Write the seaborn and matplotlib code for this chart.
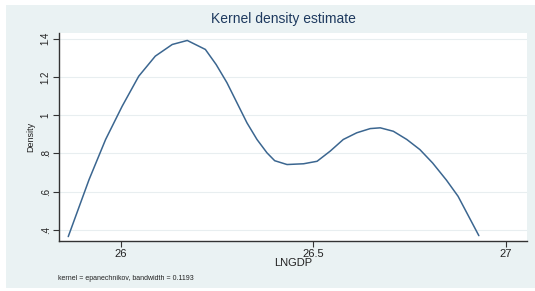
import pandas as pd
import matplotlib
matplotlib.use("Agg")
import matplotlib.pyplot as plt
from matplotlib.patches import Rectangle
import seaborn as sns

# curve
lngdp = [25.864, 25.918, 25.961, 26.004, 26.047, 26.09, 26.134, 26.173, 26.22,
         26.248, 26.276, 26.302, 26.328, 26.354, 26.38, 26.40, 26.432, 26.475,
         26.51, 26.544, 26.578, 26.613, 26.648, 26.674, 26.708, 26.743,
         26.777, 26.81, 26.846, 26.876, 26.93]
density = [0.365, 0.663, 0.873, 1.047, 1.204, 1.309, 1.37, 1.391, 1.344,
           1.265, 1.17, 1.065, 0.96, 0.873, 0.803, 0.762, 0.742, 0.746,
           0.759, 0.812, 0.873, 0.908, 0.93, 0.934, 0.916, 0.873,
           0.82, 0.75, 0.66, 0.576, 0.37]
x_ticks = [26, 26.5, 27]
x_labels = ["26", "26.5", "27"]
y_ticks = [0.4, 0.6, 0.8, 1.0, 1.2, 1.4]
y_labels = [".4", ".6", ".8", "1", "1.2", "1.4"]

df = pd.DataFrame({"LNGDP": lngdp, "Density": density})

sns.set_style("white")
plt.rcParams["font.family"] = ["Liberation Sans", "DejaVu Sans"]

bg = "#eaf2f3"
fig = plt.figure(figsize=(5.35, 2.91), dpi=100)
fig.patch.set_facecolor("white")
fig.patches.append(Rectangle((6 / 535, 3 / 291), 529 / 535, 283 / 291,
                             transform=fig.transFigure, facecolor=bg,
                             edgecolor="none", zorder=-5))

ax = fig.add_axes([59 / 535, 50 / 291, 468 / 535, 208 / 291])
ax.set_zorder(2)
ax.set_facecolor("white")

sns.lineplot(data=df, x="LNGDP", y="Density", ax=ax, color="#3b6690",
             linewidth=1.1)

ax.set_xlim(25.84, 27.055)
ax.set_ylim(0.342, 1.43)
ax.set_xticks(x_ticks)
ax.set_xticklabels(x_labels, fontsize=8, color="#222222")
ax.set_yticks(y_ticks)
ax.set_yticklabels(y_labels, fontsize=7, rotation=90, va="center",
                   color="#222222")
ax.grid(axis="y", color="#e8eef0", linewidth=0.8)
ax.set_axisbelow(True)

for side in ["top", "right"]:
    ax.spines[side].set_visible(False)
for side in ["left", "bottom"]:
    ax.spines[side].set_color("#333333")
    ax.spines[side].set_linewidth(1.0)
ax.tick_params(axis="both", direction="out", length=4, width=0.8,
               color="#333333", pad=2, bottom=True, left=True)

ax.set_xlabel("LNGDP", fontsize=8, color="#222222", labelpad=-1)
ax.set_ylabel("Density", fontsize=6.5, color="#222222", labelpad=4)

fig.text(0.53, 0.935, "Kernel density estimate", ha="center", va="center",
         fontsize=10, color="#1e3a5f")
fig.text(58 / 535, 1 - 279 / 291, "kernel = epanechnikov, bandwidth = 0.1193",
         ha="left", va="center", fontsize=5, color="#222222")

fig.savefig("out.png", dpi=100, facecolor=fig.get_facecolor())
